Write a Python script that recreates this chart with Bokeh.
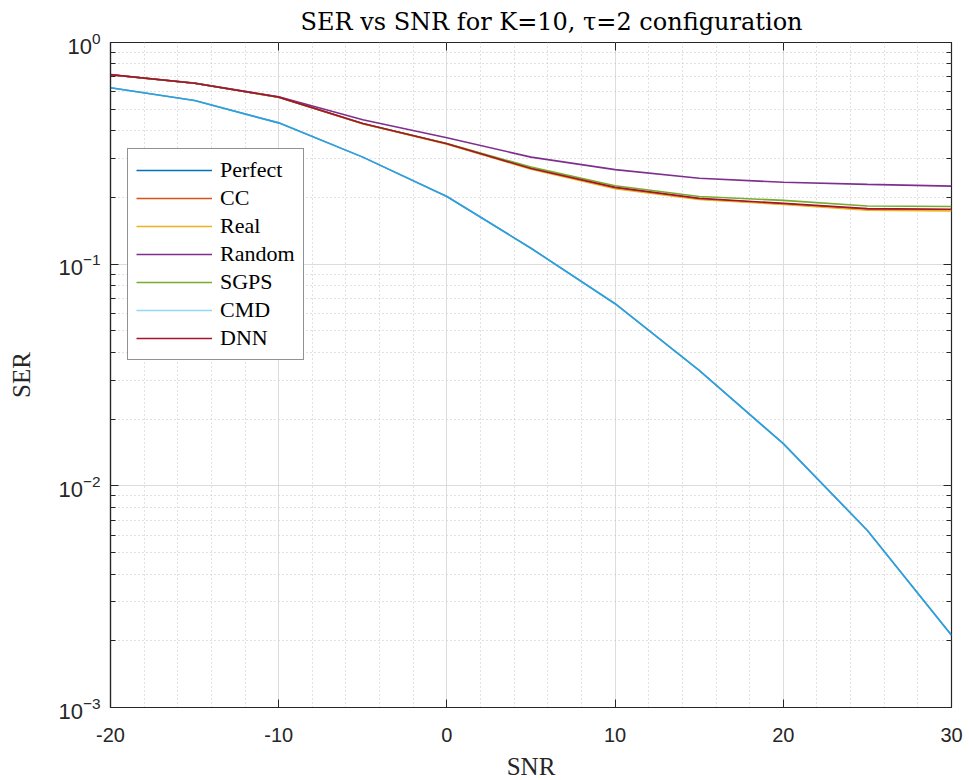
from bokeh.plotting import figure
from bokeh.models import (Range1d, SingleIntervalTicker, LogTicker, Legend, LegendItem,
                          LinearAxis, LogAxis)
from bokeh.embed import file_html
from bokeh.resources import INLINE

snr = [-20, -15, -10, -5, 0, 5, 10, 15, 20, 25, 30]
perfect = [0.625, 0.547, 0.434, 0.304, 0.202, 0.118, 0.0663, 0.0332, 0.0155, 0.00629, 0.00212]
cc = [0.715, 0.655, 0.566, 0.430, 0.349, 0.270, 0.221, 0.197, 0.187, 0.177, 0.176]
real = [0.715, 0.655, 0.566, 0.430, 0.348, 0.268, 0.219, 0.196, 0.186, 0.175, 0.174]
random_sel = [0.715, 0.656, 0.569, 0.448, 0.372, 0.304, 0.267, 0.244, 0.234, 0.229, 0.225]
sgps = [0.715, 0.655, 0.566, 0.431, 0.350, 0.274, 0.226, 0.202, 0.194, 0.183, 0.182]
cmd = [0.625, 0.547, 0.434, 0.304, 0.202, 0.118, 0.0663, 0.0332, 0.0155, 0.00629, 0.00212]
dnn = [0.716, 0.655, 0.567, 0.431, 0.349, 0.270, 0.222, 0.198, 0.188, 0.178, 0.177]

series_names = ["Perfect", "CC", "Real", "Random", "SGPS", "CMD", "DNN"]
series_values = [perfect, cc, real, random_sel, sgps, cmd, dnn]
series_colors = ["#0072BD", "#D95319", "#EDB120", "#7E2F8E", "#77AC30", "#4DBEEE", "#A2142F"]

title_text = "SER vs SNR for K=10, \u03c4=2 configuration"
x_label = "SNR"
y_label = "SER"
x_tick_labels = {-20: "-20", -10: "-10", 0: "0", 10: "10", 20: "20", 30: "30"}

AX = "#262626"
p = figure(
    frame_width=841, frame_height=665,
    min_border_left=110, min_border_right=14, min_border_top=42, min_border_bottom=62,
    y_axis_type="log",
    x_range=Range1d(-20, 30), y_range=Range1d(1e-3, 1),
    output_backend="svg", toolbar_location=None,
    title=title_text,
)
p.title.align = "left"
p.title.offset = 190
p.title.vertical_align = "top"
p.title.text_font = "DejaVu Serif"
p.title.text_font_size = "24px"
p.title.text_font_style = "normal"
p.title.text_color = "#000000"

p.outline_line_color = AX
p.outline_line_width = 1.2
p.background_fill_color = "white"
p.border_fill_color = "white"

xax = p.xaxis[0]
xax.ticker = SingleIntervalTicker(interval=10, num_minor_ticks=5)
xax.major_label_overrides = x_tick_labels
yax = p.yaxis[0]
yax.ticker = LogTicker(num_minor_ticks=10)

top_ax = LinearAxis(ticker=SingleIntervalTicker(interval=10, num_minor_ticks=5))
right_ax = LogAxis(ticker=LogTicker(num_minor_ticks=10))
p.add_layout(top_ax, "above")
p.add_layout(right_ax, "right")

for ax in (xax, yax, top_ax, right_ax):
    ax.axis_line_color = AX
    ax.axis_line_width = 1.2
    ax.major_tick_line_color = AX
    ax.minor_tick_line_color = AX
    ax.major_tick_in = 8
    ax.major_tick_out = 0
    ax.major_label_text_font = "Liberation Sans"
    ax.major_label_text_font_size = "20px"
    ax.major_label_text_color = AX
    ax.axis_label_text_font = "Liberation Serif"
    ax.axis_label_text_font_size = "25px"
    ax.axis_label_text_font_style = "normal"
    ax.axis_label_text_color = AX
yax.major_label_text_font_size = "22px"
for ax in (xax, top_ax):
    ax.minor_tick_in = 0
    ax.minor_tick_out = 0
for ax in (yax, right_ax):
    ax.minor_tick_in = 5
    ax.minor_tick_out = 0
for ax in (top_ax, right_ax):
    ax.major_label_text_font_size = "1px"
    ax.major_label_text_alpha = 0
    ax.major_label_standoff = 0
    ax.axis_line_color = None

xax.axis_label = x_label
yax.axis_label = y_label
xax.major_label_standoff = 20
yax.major_label_standoff = 10
xax.axis_label_standoff = 8
yax.axis_label_standoff = 20

for g in (p.xgrid[0], p.ygrid[0]):
    g.grid_line_color = "#dcdcdc"
    g.grid_line_width = 1
    g.minor_grid_line_color = "#c4c4c4"
    g.minor_grid_line_dash = "1 3"
    g.minor_grid_line_width = 1

renderers = []
for name, vals, col in zip(series_names, series_values, series_colors):
    alpha = 0.6 if name == "CMD" else 1.0
    r = p.line(snr, vals, line_color=col, line_width=1.6, line_alpha=alpha)
    renderers.append(r)

legend = Legend(
    items=[LegendItem(label=n, renderers=[r]) for n, r in zip(series_names, renderers)],
    location=(17, 347),
)
legend.label_text_font = "Liberation Serif"
legend.label_text_font_size = "22px"
legend.label_text_color = "#000000"
legend.glyph_width = 76
legend.glyph_height = 22
legend.label_height = 22
legend.label_standoff = 8
legend.spacing = 2
legend.padding = 8
legend.margin = 0
legend.border_line_color = AX
legend.border_line_width = 1.2
legend.background_fill_color = "white"
legend.background_fill_alpha = 1.0
p.add_layout(legend, "center")

open("out.html", "w").write(file_html(p, INLINE))
